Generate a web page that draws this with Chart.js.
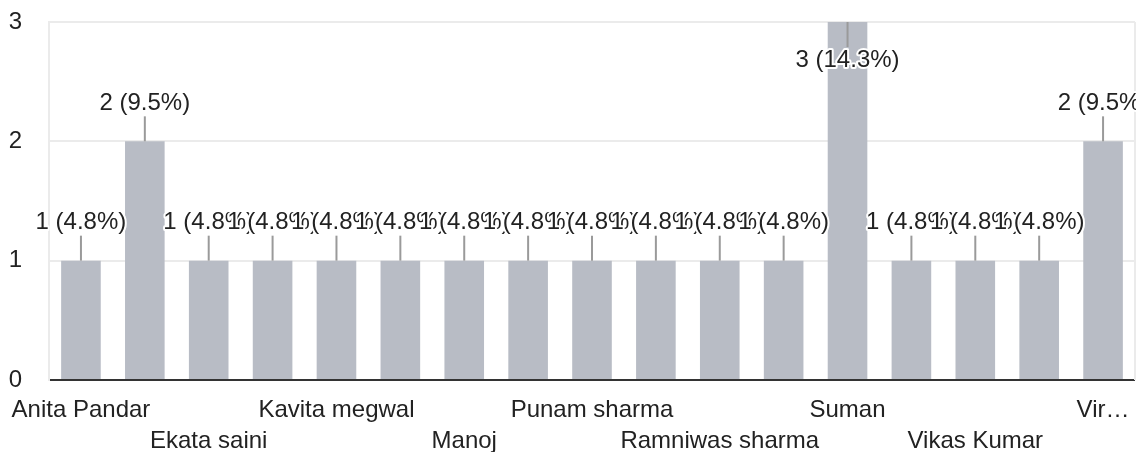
<!DOCTYPE html>
<html>
<head>
<meta charset="UTF-8">
<title>Responses</title>
<style>
    body { margin: 0; background: #fff; }
    #wrap { width: 1144px; height: 452px; }
</style>
<script src="https://cdn.jsdelivr.net/npm/chart.js"></script>
</head>
<body>
<div id="wrap"><canvas id="c" width="1144" height="452"></canvas></div>
<script>
// names that the picture does not show are left blank
const names = ['Anita Pandar', '', 'Ekata saini', '', 'Kavita megwal', '', 'Manoj', '',
    'Punam sharma', '', 'Ramniwas sharma', '', 'Suman', '', 'Vikas Kumar', '', 'Vir…'];
const counts = [1, 2, 1, 1, 1, 1, 1, 1, 1, 1, 1, 1, 3, 1, 1, 1, 2];
const yTicks = [0, 1, 2, 3];

const FONT = '"Liberation Sans", Arial, sans-serif';
const total = counts.reduce((a, b) => a + b, 0);

// value labels with leader line, white halo, clipped at the right edge
const valueLabels = {
    id: 'valueLabels',
    afterDatasetsDraw(chart) {
        const ctx = chart.ctx;
        const area = chart.chartArea;
        const meta = chart.getDatasetMeta(0);
        ctx.save();
        ctx.beginPath();
        ctx.rect(0, 0, area.right + 1, chart.height);
        ctx.clip();
        ctx.font = '24px ' + FONT;
        ctx.textAlign = 'center';
        ctx.textBaseline = 'middle';
        ctx.lineJoin = 'round';
        meta.data.forEach((bar, i) => {
            const v = counts[i];
            const text = v + ' (' + (v / total * 100).toFixed(1) + '%)';
            const up = bar.y - area.top > 60;
            const dir = up ? -1 : 1;
            const lineEnd = bar.y + dir * 25;
            ctx.strokeStyle = '#9a9a9a';
            ctx.lineWidth = 2;
            ctx.beginPath();
            ctx.moveTo(bar.x, bar.y);
            ctx.lineTo(bar.x, lineEnd);
            ctx.stroke();
            const ty = lineEnd + dir * 13;
            ctx.strokeStyle = '#fff';
            ctx.lineWidth = 4;
            ctx.strokeText(text, bar.x, ty);
            ctx.fillStyle = '#222';
            ctx.fillText(text, bar.x, ty);
        });
        ctx.restore();
    }
};

// light frame line on the right of the plot
const rightEdge = {
    id: 'rightEdge',
    beforeDatasetsDraw(chart) {
        const ctx = chart.ctx;
        const a = chart.chartArea;
        ctx.save();
        ctx.strokeStyle = '#ebebeb';
        ctx.lineWidth = 2;
        ctx.beginPath();
        ctx.moveTo(a.right, a.top);
        ctx.lineTo(a.right, a.bottom);
        ctx.stroke();
        ctx.restore();
    }
};

new Chart(document.getElementById('c'), {
    type: 'bar',
    data: {
        labels: names,
        datasets: [{
            data: counts,
            backgroundColor: '#b8bcc5',
            categoryPercentage: 1,
            barPercentage: 0.62
        }]
    },
    options: {
        responsive: false,
        animation: false,
        layout: { padding: { top: 22, right: 9, left: 0, bottom: 0 } },
        plugins: { legend: { display: false }, tooltip: { enabled: false } },
        scales: {
            x: {
                grid: { display: false },
                border: { display: false },
                ticks: {
                    autoSkip: false,
                    maxRotation: 0,
                    minRotation: 0,
                    padding: 7,
                    color: '#222',
                    font: { family: FONT, size: 24, lineHeight: 1.3 },
                    callback(value, index) {
                        const n = names[index];
                        if (!n || index % 2) return '';
                        return (index / 2) % 2 ? ['', n] : n;
                    }
                },
                afterFit(scale) { scale.height = 72; }
            },
            y: {
                min: yTicks[0],
                max: yTicks[yTicks.length - 1],
                afterBuildTicks(scale) { scale.ticks = yTicks.map(v => ({ value: v })); },
                grid: {
                    drawTicks: false,
                    lineWidth: 2,
                    color: c => c.tick && c.tick.value === 0 ? '#333' : '#ebebeb'
                },
                border: { color: '#ebebeb', width: 2 },
                ticks: {
                    padding: 27,
                    color: '#222',
                    font: { family: FONT, size: 24 }
                },
                afterFit(scale) {
                    scale.width = 49;
                    scale.paddingTop = 0;
                    scale.paddingBottom = 0;
                }
            }
        }
    },
    plugins: [rightEdge, valueLabels]
});
</script>
</body>
</html>
